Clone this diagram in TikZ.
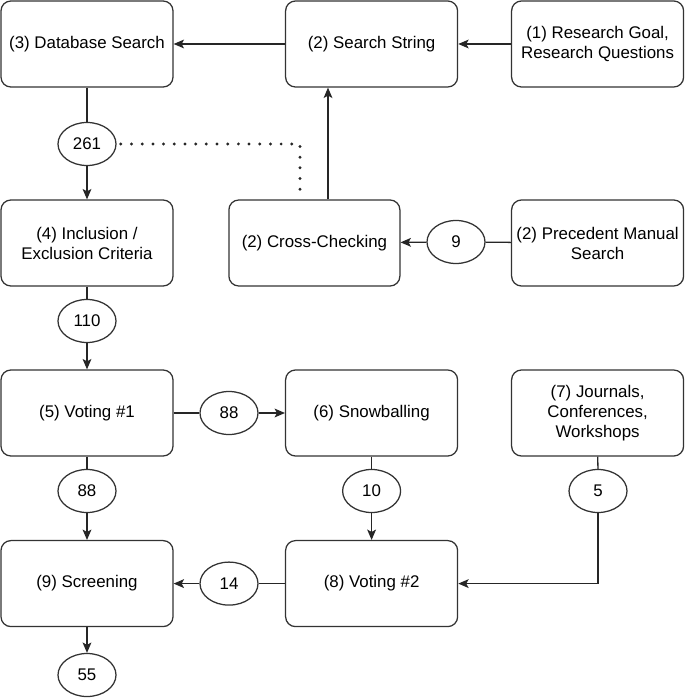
\documentclass[tikz,border=0pt]{standalone}
\usepackage{fontspec}
\setmainfont{Liberation Sans}
\usetikzlibrary{arrows.meta,positioning,shapes.geometric,calc}

\begin{document}
\begin{tikzpicture}[
		box/.style={draw=black!80, line width=0.9pt, rounded corners=7pt, minimum width=4.3cm, minimum height=2.15cm, align=center, inner sep=1pt},
		count/.style={draw=black!80, line width=0.9pt, ellipse, minimum width=1.45cm, minimum height=1.075cm, inner sep=0pt},
		flow/.style={draw=black!85, line width=0.9pt, -{Stealth[length=2.6mm,width=2.2mm,inset=0.6mm]}},
		link/.style={draw=black!85, line width=0.9pt},
		dots/.style={draw=black!85, line width=2.3pt, line cap=round, dash pattern=on 0pt off 7.6pt},
		font=\fontsize{12}{14.2}\selectfont]
			\useasboundingbox (0,0) rectangle (17.125,-17.475);
			
			% Process steps
			\node[box] (dbsearch) at (2.175,-1.1) {(3) Database Search};
			\node[box] (searchstring) at (9.29,-1.1) {(2) Search String};
			\node[box] (goal) at (14.94,-1.1) {(1) Research Goal,\\Research Questions};
			\node[box, minimum width=4.275cm] (crosscheck) at (7.86,-6.075) {(2) Cross-Checking};
			\node[box] (inclusion) at (2.175,-6.075) {(4) Inclusion /\\Exclusion Criteria};
			\node[box] (precedent) at (14.94,-6.075) {(2) Precedent Manual\\Search};
			\node[box] (voting1) at (2.175,-10.325) {(5) Voting \#1};
			\node[box] (snowball) at (9.29,-10.325) {(6) Snowballing};
			\node[box] (journals) at (14.94,-10.325) {(7) Journals,\\Conferences,\\Workshops};
			\node[box] (screening) at (2.175,-14.59) {(9) Screening};
			\node[box] (voting2) at (9.29,-14.59) {(8) Voting \#2};
			
			% Paper counts
			\foreach \name/\x/\y/\val in {
				n261/2.175/-3.6/261,
				n110/2.175/-8.025/110,
				n9/11.4/-6.05/9,
				n88a/5.725/-10.325/88,
				n88b/2.175/-12.275/88,
				n10/9.29/-12.275/10,
				n5/14.95/-12.275/5,
				n14/5.725/-14.59/14,
				n55/2.175/-16.875/55} {
				\node[count] (\name) at (\x,\y) {\val};
			}
			
			% Top row
			\draw[flow] (goal) -- (searchstring);
			\draw[flow] (searchstring) -- (dbsearch);
			\draw[link] (dbsearch) -- (n261);
			\draw[flow] (n261) -- (inclusion);
			
			% Cross-checking
			\coordinate (ccdots) at ($(crosscheck.north)+(-0.36,0)$);
			\coordinate (ccup) at ($(crosscheck.north)+(0.34,0)$);
			\draw[dots] ([xshift=3pt]n261.east) -| (ccdots);
			\draw[flow] (ccup) -- (ccup |- searchstring.south);
			\draw[link] (precedent) -- (n9);
			\draw[flow] (n9) -- (crosscheck);
			
			% Voting and snowballing
			\draw[link] (inclusion) -- (n110);
			\draw[flow] (n110) -- (voting1);
			\draw[link] (voting1) -- (n88a);
			\draw[flow] (n88a) -- (snowball);
			\draw[link] (voting1) -- (n88b);
			\draw[flow] (n88b) -- (screening);
			\draw[link] (snowball) -- (n10);
			\draw[flow] (n10) -- (voting2);
			\draw[link] (journals) -- (n5);
			\draw[flow] (n5) |- (voting2);
			
			% Screening
			\draw[link] (voting2) -- (n14);
			\draw[flow] (n14) -- (screening);
			\draw[flow] (screening) -- (n55);
		\end{tikzpicture}
\end{document}
